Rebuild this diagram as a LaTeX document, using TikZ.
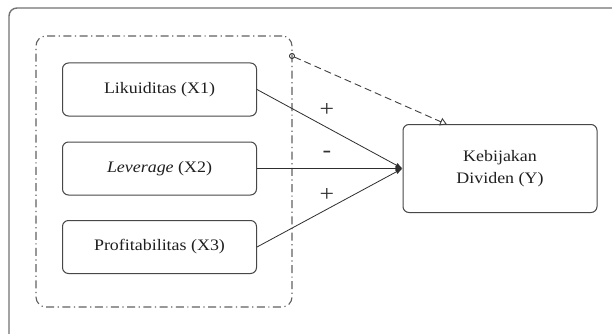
\documentclass[tikz,border=0pt]{standalone}
\usepackage{fontspec}
\setmainfont{Liberation Serif}[FakeStretch=1.12]
\usetikzlibrary{arrows.meta}
\begin{document}
\begin{tikzpicture}[x=1pt,y=-1pt,
  frame/.style={draw=black!55,line width=1.4pt,rounded corners=8pt},
  grp/.style={draw=black!62,line width=1.1pt,dash pattern=on 8pt off 3.5pt on 1.2pt off 3.5pt,rounded corners=10pt},
  var/.style={draw=black!72,line width=1pt,rounded corners=6pt,minimum width=194pt,minimum height=53pt,inner sep=0pt,font=\fontsize{16}{22}\selectfont,text=black!88},
  path/.style={draw=black!82,line width=0.8pt,-{Latex[length=7pt,width=5pt]}},
  mod/.style={draw=black!75,line width=0.9pt,dash pattern=on 7pt off 4pt,{Circle[open,length=6pt,width=6pt,sep=-3pt]}-{Triangle[open,length=7pt,width=8pt]}},
  sign/.style={font=\fontsize{23}{23}\selectfont,text=black!80,inner sep=0pt}]
\useasboundingbox (0,0) rectangle (612,334);
\fill[white] (0,0) rectangle (612,334);
\draw[frame] (9,8) rectangle (650,370);
\node[grp,minimum width=256pt,minimum height=271pt] (g) at (164,171.5) {};
\node[var] (x1) at (159.5,89.5) {Likuiditas (X1)};
\node[var] (x2) at (159.5,168.5) {\textit{Leverage} (X2)};
\node[var] (x3) at (159.5,247) {Profitabilitas (X3)};
\node[var,minimum height=88pt,align=center] (y) at (500,168.5) {Kebijakan\\Dividen (Y)};
\coordinate (c) at (292,56);
\coordinate (t) at (447,124.5);
\draw[path] (x1.east) -- (y.west);
\draw[path] (x2.east) -- (y.west);
\draw[path] (x3.east) -- (y.west);
\draw[mod] (c) -- (t);
\node[sign] (p1) at (327,110) {+};
\node[sign] (m2) at (327,154) {-};
\node[sign] (p3) at (327,195) {+};
\end{tikzpicture}
\end{document}
